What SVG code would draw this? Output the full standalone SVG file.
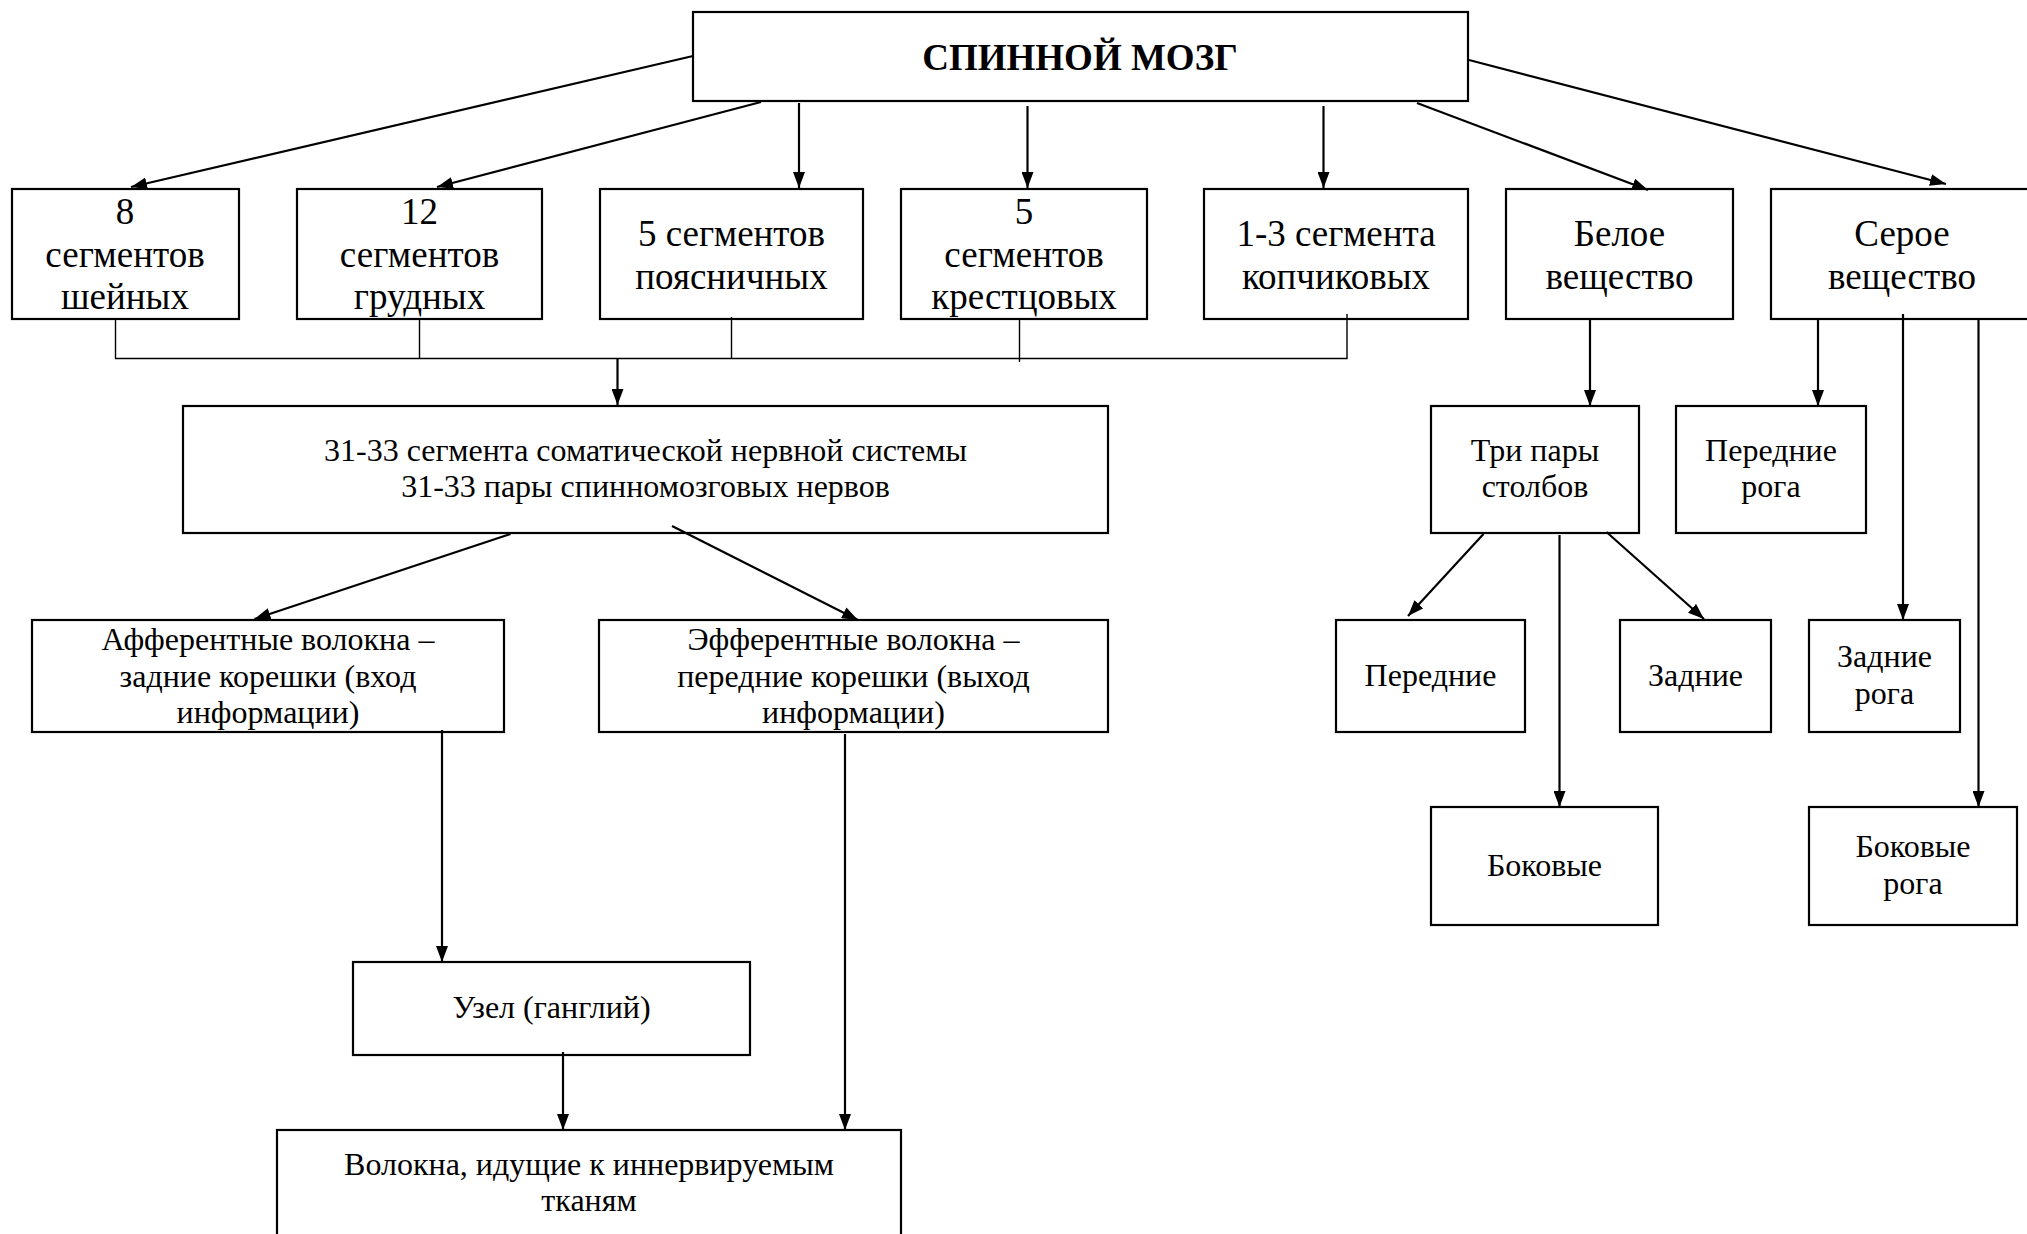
<svg xmlns="http://www.w3.org/2000/svg" width="2027" height="1234" viewBox="0 0 2027 1234">
  <style>
    .box { fill: #ffffff; stroke: #000000; stroke-width: 2.2; }
    .t { font-family: "Liberation Serif", "Times New Roman", serif; fill: #000000; text-anchor: middle; }
    .t37 { font-size: 37px; }
    .t31 { font-size: 32px; }
    .title { font-size: 37px; font-weight: bold; }
    .arr { stroke: #000000; stroke-width: 2.2; fill: none; marker-end: url(#head); }
    .thin { stroke: #000000; stroke-width: 1.4; fill: none; }
  </style>
  <defs>
    <marker id="head" markerUnits="userSpaceOnUse" markerWidth="16" markerHeight="12" refX="16" refY="6" orient="auto">
      <path d="M0,0 L16,6 L0,12 Z" fill="#000000"/>
    </marker>
  </defs>
  <rect width="2027" height="1234" fill="#ffffff"/>

  <g id="root">
    <rect class="box" x="693" y="12" width="775" height="89"/>
    <text class="t title" x="1080" y="70">СПИННОЙ МОЗГ</text>
  </g>

  <g id="cervical">
    <rect class="box" x="12" y="189" width="227" height="130"/>
    <text class="t t37" x="125" y="224">8</text>
    <text class="t t37" x="125" y="266.5">сегментов</text>
    <text class="t t37" x="125" y="309">шейных</text>
  </g>
  <g id="thoracic">
    <rect class="box" x="297" y="189" width="245" height="130"/>
    <text class="t t37" x="419.5" y="224">12</text>
    <text class="t t37" x="419.5" y="266.5">сегментов</text>
    <text class="t t37" x="419.5" y="309">грудных</text>
  </g>
  <g id="lumbar">
    <rect class="box" x="600" y="189" width="263" height="130"/>
    <text class="t t37" x="731.5" y="246">5 сегментов</text>
    <text class="t t37" x="731.5" y="288.5">поясничных</text>
  </g>
  <g id="sacral">
    <rect class="box" x="901" y="189" width="246" height="130"/>
    <text class="t t37" x="1024" y="224">5</text>
    <text class="t t37" x="1024" y="266.5">сегментов</text>
    <text class="t t37" x="1024" y="309">крестцовых</text>
  </g>
  <g id="coccygeal">
    <rect class="box" x="1204" y="189" width="264" height="130"/>
    <text class="t t37" x="1336" y="246">1-3 сегмента</text>
    <text class="t t37" x="1336" y="288.5">копчиковых</text>
  </g>
  <g id="white-matter">
    <rect class="box" x="1506" y="189" width="227" height="130"/>
    <text class="t t37" x="1619.5" y="246">Белое</text>
    <text class="t t37" x="1619.5" y="288.5">вещество</text>
  </g>
  <g id="grey-matter">
    <rect class="box" x="1771" y="189" width="270" height="130"/>
    <text class="t t37" x="1902" y="246">Серое</text>
    <text class="t t37" x="1902" y="288.5">вещество</text>
  </g>

  <g id="segments">
    <rect class="box" x="183" y="406" width="925" height="127"/>
    <text class="t t31" x="645.5" y="460.5">31-33 сегмента соматической нервной системы</text>
    <text class="t t31" x="645.5" y="496.5">31-33 пары спинномозговых нервов</text>
  </g>
  <g id="afferent">
    <rect class="box" x="32" y="620" width="472" height="112"/>
    <text class="t t31" x="268" y="650">Афферентные волокна –</text>
    <text class="t t31" x="268" y="687">задние корешки (вход</text>
    <text class="t t31" x="268" y="723">информации)</text>
  </g>
  <g id="efferent">
    <rect class="box" x="599" y="620" width="509" height="112"/>
    <text class="t t31" x="853.5" y="650">Эфферентные волокна –</text>
    <text class="t t31" x="853.5" y="687">передние корешки (выход</text>
    <text class="t t31" x="853.5" y="723">информации)</text>
  </g>
  <g id="ganglion">
    <rect class="box" x="353" y="962" width="397" height="93"/>
    <text class="t t31" x="551.5" y="1018">Узел (ганглий)</text>
  </g>
  <g id="fibres">
    <rect class="box" x="277" y="1130" width="624" height="130"/>
    <text class="t t31" x="589" y="1175">Волокна, идущие к иннервируемым</text>
    <text class="t t31" x="589" y="1211">тканям</text>
  </g>

  <g id="columns">
    <rect class="box" x="1431" y="406" width="208" height="127"/>
    <text class="t t31" x="1535" y="461">Три пары</text>
    <text class="t t31" x="1535" y="497">столбов</text>
  </g>
  <g id="anterior-horns">
    <rect class="box" x="1676" y="406" width="190" height="127"/>
    <text class="t t31" x="1771" y="461">Передние</text>
    <text class="t t31" x="1771" y="497">рога</text>
  </g>
  <g id="anterior-columns">
    <rect class="box" x="1336" y="620" width="189" height="112"/>
    <text class="t t31" x="1430.5" y="686">Передние</text>
  </g>
  <g id="posterior-columns">
    <rect class="box" x="1620" y="620" width="151" height="112"/>
    <text class="t t31" x="1695.5" y="686">Задние</text>
  </g>
  <g id="posterior-horns">
    <rect class="box" x="1809" y="620" width="151" height="112"/>
    <text class="t t31" x="1884.5" y="667">Задние</text>
    <text class="t t31" x="1884.5" y="704">рога</text>
  </g>
  <g id="lateral-columns">
    <rect class="box" x="1431" y="807" width="227" height="118"/>
    <text class="t t31" x="1544.5" y="876">Боковые</text>
  </g>
  <g id="lateral-horns">
    <rect class="box" x="1809" y="807" width="208" height="118"/>
    <text class="t t31" x="1913" y="857">Боковые</text>
    <text class="t t31" x="1913" y="894">рога</text>
  </g>

  <!-- connectors are drawn last so their starts show over the box fills -->
  <g id="connectors">
    <!-- from the root node -->
    <line class="arr" x1="693" y1="56" x2="131" y2="187"/>
    <line class="arr" x1="761" y1="102" x2="437" y2="187"/>
    <line class="arr" x1="799" y1="103" x2="799" y2="188"/>
    <line class="arr" x1="1027.5" y1="106" x2="1027.5" y2="188"/>
    <line class="arr" x1="1323.5" y1="106" x2="1323.5" y2="188"/>
    <line class="arr" x1="1417" y1="103" x2="1648" y2="190"/>
    <line class="arr" x1="1469" y1="60" x2="1946" y2="184"/>
    <!-- collecting bus under the segment boxes -->
    <line class="thin" x1="115.5" y1="319" x2="115.5" y2="358.5"/>
    <line class="thin" x1="419.5" y1="319" x2="419.5" y2="358.5"/>
    <line class="thin" x1="731.5" y1="317" x2="731.5" y2="358.5"/>
    <line class="thin" x1="1019.5" y1="319" x2="1019.5" y2="362"/>
    <line class="thin" x1="1347" y1="314" x2="1347" y2="358.5"/>
    <line class="thin" x1="115" y1="358.5" x2="1347.5" y2="358.5"/>
    <line class="arr" x1="617.5" y1="358.5" x2="617.5" y2="405"/>
    <!-- roots -->
    <line class="arr" x1="510.5" y1="534" x2="254.5" y2="619"/>
    <line class="arr" x1="672" y1="526" x2="858" y2="620"/>
    <line class="arr" x1="442" y1="730" x2="442" y2="962"/>
    <line class="arr" x1="845" y1="734" x2="845" y2="1130"/>
    <line class="arr" x1="563" y1="1052" x2="563" y2="1130"/>
    <!-- white matter -->
    <line class="arr" x1="1590" y1="319" x2="1590" y2="406"/>
    <line class="arr" x1="1483.5" y1="534" x2="1408" y2="616"/>
    <line class="arr" x1="1606.5" y1="532" x2="1704" y2="619"/>
    <line class="arr" x1="1559.5" y1="535" x2="1559.5" y2="807"/>
    <!-- grey matter -->
    <line class="arr" x1="1818" y1="319" x2="1818" y2="406"/>
    <line class="arr" x1="1903" y1="314" x2="1903" y2="620"/>
    <line class="arr" x1="1978.5" y1="319" x2="1978.5" y2="807"/>
  </g>
</svg>
